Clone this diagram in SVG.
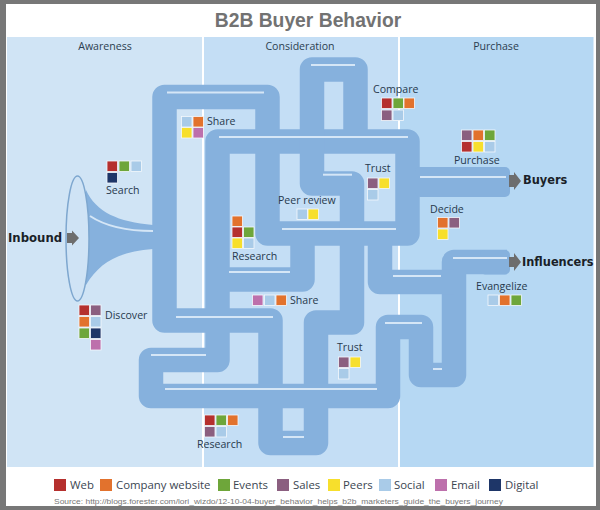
<svg xmlns="http://www.w3.org/2000/svg" xmlns:xlink="http://www.w3.org/1999/xlink" width="600" height="510" viewBox="0 0 600 510">
<style>
text{font-family:"Open Sans","Liberation Sans",sans-serif}
.pipe{fill:none;stroke:#86b1dd;stroke-width:24.5;stroke-linejoin:round}
.hl{stroke:#d5e6f6;stroke-width:2;fill:none}
.lb{font-size:10.6px;fill:#27394d}
.st{font-size:10.6px;fill:#2c3e50;text-anchor:middle}
.ex{font-family:"DejaVu Sans",sans-serif;font-weight:700;font-size:11.4px;fill:#1a1f28}
.lg{font-size:11.4px;fill:#3b4652}
.c{stroke:#f4f8fc;stroke-width:.8}
.web{fill:#b5302e}.co{fill:#e2722d}.ev{fill:#6ea63a}.sa{fill:#8b5f80}.pe{fill:#f7df2c}.so{fill:#a9cbe8}.em{fill:#bd70ac}.di{fill:#1e3668}
.ar{fill:#6d6d6d}
</style>
<defs><rect id="s" width="10.500" height="10.500"/></defs>
<rect width="600" height="510" fill="#777"/>
<rect x="6" y="4" width="590" height="502" fill="#fff"/>
<g id="zones">
<rect x="7" y="37" width="195" height="430" fill="#d0e4f5"/>
<rect x="204" y="37" width="194" height="430" fill="#c4def5"/>
<rect x="400" y="37" width="193.500" height="430" fill="#b6d8f3"/>
<text class="st" x="105" y="50">Awareness</text>
<text class="st" x="300" y="50">Consideration</text>
<text class="st" x="496" y="50">Purchase</text>
</g>
<text x="308" y="27" text-anchor="middle" style="font-family:'Liberation Sans',sans-serif;font-weight:700;font-size:19.300px;fill:#727272">B2B Buyer Behavior</text>
<g id="connectors">
<path class="pipe" d="M352 233V322.500H316V443H270.500V320.500H164.500V97H267.500V233.500H407.500V141.500H217.500V360H151V396H388V327H421V375H454V262H507"/>
<path class="pipe" d="M312 141V69.500H355.500V141"/>
<path class="pipe" d="M312 141V183.500H352V233"/>
<path class="pipe" d="M217.500 279.500H302.500V233"/>
<path class="pipe" d="M380 240V282H454"/>
<rect x="415" y="167" width="95" height="30" rx="5" fill="#86b1dd"/>
<rect x="480" y="250" width="30" height="24.500" rx="5" fill="#86b1dd"/>
<path d="M86 190C96 212 118 222 153 225V249C118 252 100 262 86 285Z" fill="#86b1dd"/>
<g class="hl">
<path d="M167 92.500H264"/><path d="M219 137H408"/><path d="M282 229H396"/><path d="M323 174.700H352"/><path d="M229 272H290"/>
<path d="M176 317H273"/><path d="M151 355H206"/><path d="M165 389H377"/><path d="M385 323H422"/><path d="M433 369H442"/>
<path d="M393 276H441"/><path d="M453 258H507"/><path d="M311 65H355"/><path d="M420 177H506"/><path d="M283 437H304"/>
<path d="M90 216C105 226 125 231 153 231"/>
</g>
</g>
<g id="inbound">
<ellipse cx="77.500" cy="238.500" rx="11.500" ry="62.500" fill="#cfe3f5" stroke="#7ea7cf" stroke-width="1.500"/>
<text class="ex" x="8" y="242" style="font-size:11.700px">Inbound</text>
<path class="ar" d="M67 233H72V230.500L79 238L72 245.500V243H67Z"/>
</g>
<g id="buyers">
<text class="ex" x="523" y="184">Buyers</text>
<path class="ar" d="M509 175H514V172L521 181L514 190V187H509Z"/>
</g>
<g id="influencers">
<text class="ex" x="522" y="266">Influencers</text>
<path class="ar" d="M509 257H514V253L521 262L514 271V267H509Z"/>
</g>
<g id="share-top">
<use href="#s" class="c so" x="181.500" y="116.500"/><use href="#s" class="c co" x="193" y="116.500"/><use href="#s" class="c pe" x="181.500" y="127.500"/><use href="#s" class="c em" x="193" y="127.500"/>
<text class="lb" x="207" y="125">Share</text>
</g>
<g id="search">
<use href="#s" class="c web" x="107" y="161"/><use href="#s" class="c ev" x="119" y="161"/><use href="#s" class="c so" x="131" y="161"/><use href="#s" class="c di" x="107" y="172.500"/>
<text class="lb" x="106" y="194">Search</text>
</g>
<g id="research-mid">
<use href="#s" class="c co" x="232" y="216"/><use href="#s" class="c web" x="232" y="227"/><use href="#s" class="c ev" x="243.500" y="227"/><use href="#s" class="c pe" x="232" y="238"/><use href="#s" class="c so" x="243.500" y="238"/>
<text class="lb" x="232" y="260">Research</text>
</g>
<g id="peer-review">
<text class="lb" x="278" y="204">Peer review</text>
<use href="#s" class="c so" x="297" y="209"/><use href="#s" class="c pe" x="308" y="209"/>
</g>
<g id="trust-top">
<text class="lb" x="365" y="172">Trust</text>
<use href="#s" class="c sa" x="367.500" y="178"/><use href="#s" class="c pe" x="379" y="178"/><use href="#s" class="c so" x="367.500" y="189.500"/>
</g>
<g id="compare">
<text class="lb" x="373" y="93">Compare</text>
<use href="#s" class="c web" x="381.500" y="98"/><use href="#s" class="c ev" x="393" y="98"/><use href="#s" class="c co" x="404" y="98"/><use href="#s" class="c sa" x="381.500" y="110"/><use href="#s" class="c so" x="393" y="110"/>
</g>
<g id="purchase">
<use href="#s" class="c sa" x="461.500" y="130"/><use href="#s" class="c co" x="473" y="130"/><use href="#s" class="c ev" x="484.500" y="130"/><use href="#s" class="c web" x="461.500" y="141.500"/><use href="#s" class="c pe" x="473" y="141.500"/><use href="#s" class="c so" x="484.500" y="141.500"/>
<text class="lb" x="454" y="164">Purchase</text>
</g>
<g id="decide">
<text class="lb" x="430" y="213">Decide</text>
<use href="#s" class="c co" x="437.500" y="217.500"/><use href="#s" class="c sa" x="449" y="217.500"/><use href="#s" class="c pe" x="437.500" y="229"/>
</g>
<g id="evangelize">
<text class="lb" x="476" y="290">Evangelize</text>
<use href="#s" class="c so" x="488" y="295"/><use href="#s" class="c co" x="499.500" y="295"/><use href="#s" class="c ev" x="511" y="295"/>
</g>
<g id="share-mid">
<use href="#s" class="c em" x="252.500" y="295"/><use href="#s" class="c so" x="264.500" y="295"/><use href="#s" class="c co" x="276" y="295"/>
<text class="lb" x="290" y="304">Share</text>
</g>
<g id="discover">
<use href="#s" class="c web" x="79" y="305"/><use href="#s" class="c sa" x="90.500" y="305"/><use href="#s" class="c co" x="79" y="316.500"/><use href="#s" class="c so" x="90.500" y="316.500"/><use href="#s" class="c ev" x="79" y="328"/><use href="#s" class="c di" x="90.500" y="328"/><use href="#s" class="c em" x="90.500" y="339.500"/>
<text class="lb" x="105" y="319">Discover</text>
</g>
<g id="trust-low">
<text class="lb" x="337" y="351">Trust</text>
<use href="#s" class="c sa" x="338.500" y="357"/><use href="#s" class="c pe" x="350" y="357"/><use href="#s" class="c so" x="338.500" y="368.500"/>
</g>
<g id="research-low">
<use href="#s" class="c web" x="204.500" y="415"/><use href="#s" class="c ev" x="216" y="415"/><use href="#s" class="c co" x="227.500" y="415"/><use href="#s" class="c sa" x="204.500" y="426.500"/><use href="#s" class="c so" x="216" y="426.500"/>
<text class="lb" x="197" y="448">Research</text>
</g>
<g id="legend">
<rect class="web" x="54" y="479" width="12" height="12"/><text class="lg" x="70" y="488.500">Web</text>
<rect class="co" x="100" y="479" width="12" height="12"/><text class="lg" x="116" y="488.500">Company website</text>
<rect class="ev" x="218" y="479" width="12" height="12"/><text class="lg" x="233" y="488.500">Events</text>
<rect class="sa" x="277" y="479" width="12" height="12"/><text class="lg" x="293" y="488.500">Sales</text>
<rect class="pe" x="328" y="479" width="12" height="12"/><text class="lg" x="343" y="488.500">Peers</text>
<rect class="so" x="379" y="479" width="12" height="12"/><text class="lg" x="394" y="488.500">Social</text>
<rect class="em" x="435" y="479" width="12" height="12"/><text class="lg" x="451" y="488.500">Email</text>
<rect class="di" x="489" y="479" width="12" height="12"/><text class="lg" x="505" y="488.500">Digital</text>
</g>
<text x="54" y="504" textLength="449" lengthAdjust="spacingAndGlyphs" style="font-family:'Liberation Sans',sans-serif;font-size:7.800px;fill:#777">Source: http://blogs.forester.com/lori_wizdo/12-10-04-buyer_behavior_helps_b2b_marketers_guide_the_buyers_journey</text>
</svg>
